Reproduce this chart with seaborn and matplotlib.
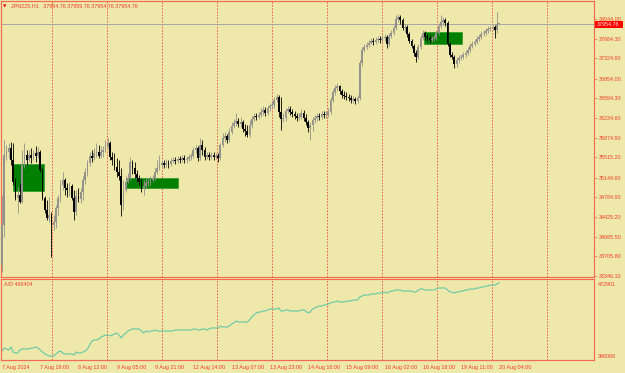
import matplotlib
matplotlib.use("Agg")
import matplotlib.pyplot as plt
from matplotlib.patches import Rectangle
import numpy as np
import pandas as pd
import seaborn as sns

# ---------------- data ----------------
symbol_text = "JPN225,H1   37954.76 37959.76 37954.76 37954.76"
current_price = 37954.76

opens = [33547, 34278, 35558, 35612, 35686, 35466, 35064, 34772, 34826, 34698,
         35375, 35558, 35466, 35558, 35503, 35594, 35539, 35612, 35284, 34772,
         34552, 34406, 34461, 34278, 34333, 34589, 34772, 35009, 35101, 34954,
         34918, 34991, 34772, 34516, 34808, 34753, 34881, 35101, 35247, 35411,
         35539, 35503, 35594, 35612, 35539, 35612, 35649, 35722, 35777, 35521,
         35466, 35338, 35247, 35174, 34644, 34918, 35064, 35137, 35430, 35320,
         35210, 35137, 35064, 34954, 34991, 35046, 35064, 35101, 35137, 35247,
         35320, 35375, 35411, 35375, 35411, 35393, 35448, 35466, 35448, 35485,
         35466, 35503, 35466, 35485, 35521, 35539, 35649, 35686, 35503, 35740,
         35649, 35521, 35558, 35521, 35558, 35521, 35539, 35503, 35740, 35868,
         35905, 35832, 35978, 36088, 36143, 36179, 36124, 36161, 36033, 35996,
         35923, 36106, 36216, 36270, 36252, 36289, 36344, 36380, 36325, 36417,
         36453, 36472, 36563, 36618, 36344, 36216, 36234, 36362, 36398, 36344,
         36307, 36270, 36234, 36252, 36325, 36234, 36161, 36051, 36106, 36197,
         36234, 36270, 36252, 36307, 36289, 36307, 36344, 36563, 36709, 36782,
         36819, 36727, 36654, 36636, 36618, 36600, 36563, 36581, 36545, 36600,
         37239, 37477, 37532, 37568, 37605, 37642, 37623, 37660, 37678, 37660,
         37696, 37715, 37587, 37733, 37788, 37879, 38044, 38080, 38025, 37879,
         37897, 37770, 37642, 37550, 37422, 37349, 37532, 37696, 37788, 37715,
         37696, 37660, 37678, 37696, 37788, 37916, 37989, 38025, 37971, 37587,
         37386, 37349, 37221, 37294, 37331, 37349, 37386, 37422, 37477, 37550,
         37587, 37623, 37678, 37715, 37770, 37788, 37824, 37861, 37879, 37897,
         37843, 37954.76]

highs = [34826, 35832, 35740, 35777, 35795, 35777, 35137, 34973, 35046, 35649,
         35777, 35649, 35649, 35686, 35649, 35722, 35704, 35649, 35320, 34808,
         34735, 34790, 34516, 34461, 34644, 34826, 35101, 35247, 35137, 35046,
         35064, 35028, 34918, 34918, 34954, 34954, 35174, 35320, 35466, 35612,
         35649, 35686, 35777, 35740, 35722, 35722, 35832, 35868, 35814, 35612,
         35594, 35503, 35466, 35320, 35101, 35174, 35229, 35521, 35466, 35430,
         35284, 35192, 35137, 35101, 35137, 35137, 35174, 35192, 35320, 35466,
         35558, 35466, 35466, 35485, 35466, 35503, 35521, 35521, 35539, 35539,
         35558, 35558, 35539, 35576, 35594, 35704, 35740, 35722, 35868, 35832,
         35704, 35612, 35612, 35612, 35612, 35594, 35594, 35777, 35960, 35978,
         35941, 36051, 36161, 36216, 36325, 36234, 36252, 36197, 36124, 36106,
         36197, 36270, 36325, 36325, 36344, 36417, 36453, 36435, 36472, 36508,
         36545, 36618, 36673, 36654, 36618, 36325, 36417, 36453, 36453, 36398,
         36362, 36325, 36325, 36398, 36380, 36307, 36197, 36161, 36252, 36289,
         36325, 36325, 36362, 36362, 36362, 36417, 36618, 36764, 36837, 36874,
         36837, 36764, 36727, 36709, 36673, 36654, 36636, 36618, 36654, 37294,
         37532, 37587, 37623, 37660, 37696, 37696, 37715, 37733, 37733, 37751,
         37770, 37751, 37788, 37843, 37934, 38117, 38135, 38117, 38062, 37952,
         37934, 37806, 37678, 37587, 37477, 37587, 37751, 37843, 37824, 37770,
         37751, 37733, 37751, 37843, 37971, 38117, 38080, 38062, 38007, 37623,
         37440, 37386, 37349, 37386, 37404, 37440, 37477, 37532, 37605, 37642,
         37678, 37733, 37770, 37824, 37843, 37879, 37916, 37916, 37934, 37934,
         38172, 37959.76]

lows = [33419, 34059, 35466, 35503, 35375, 35009, 34735, 34497, 34680, 34680,
        35320, 35375, 35430, 35411, 35466, 35430, 35503, 35247, 34735, 34497,
        34369, 34333, 33693, 34187, 34223, 34461, 34698, 34918, 34826, 34790,
        34808, 34735, 34369, 34461, 34698, 34680, 34735, 35028, 35174, 35357,
        35430, 35466, 35521, 35503, 35503, 35521, 35612, 35686, 35466, 35375,
        35284, 35155, 35101, 34443, 34552, 34881, 35046, 35101, 35210, 35137,
        35064, 35009, 34881, 34826, 34954, 34991, 35009, 35064, 35101, 35210,
        35284, 35320, 35320, 35338, 35320, 35357, 35411, 35393, 35411, 35411,
        35430, 35411, 35411, 35448, 35466, 35503, 35594, 35448, 35466, 35558,
        35466, 35485, 35466, 35485, 35466, 35485, 35430, 35466, 35704, 35795,
        35777, 35795, 35941, 36051, 36088, 36069, 36069, 35978, 35905, 35887,
        35887, 36051, 36179, 36197, 36216, 36252, 36289, 36270, 36289, 36362,
        36417, 36417, 36526, 36252, 36015, 36161, 36179, 36325, 36289, 36252,
        36216, 36179, 36197, 36216, 36179, 36106, 35978, 35832, 35996, 36143,
        36179, 36197, 36216, 36234, 36234, 36252, 36307, 36526, 36654, 36727,
        36673, 36600, 36581, 36563, 36545, 36508, 36508, 36490, 36508, 36563,
        37185, 37440, 37495, 37532, 37587, 37568, 37587, 37623, 37605, 37623,
        37642, 37514, 37550, 37696, 37751, 37843, 37989, 37952, 37843, 37806,
        37715, 37605, 37514, 37367, 37258, 37313, 37495, 37660, 37660, 37642,
        37605, 37623, 37642, 37660, 37751, 37879, 37934, 37916, 37550, 37349,
        37313, 37148, 37166, 37239, 37294, 37313, 37349, 37386, 37440, 37514,
        37550, 37587, 37642, 37678, 37733, 37751, 37788, 37824, 37843, 37696,
        37788, 37954.76]

closes = [34278, 35558, 35612, 35686, 35466, 35064, 34772, 34826, 34698, 35375,
          35558, 35466, 35558, 35503, 35594, 35539, 35612, 35284, 34772, 34552,
          34406, 34461, 34278, 34333, 34589, 34772, 35009, 35101, 34954, 34918,
          34991, 34772, 34516, 34808, 34753, 34881, 35101, 35247, 35411, 35539,
          35503, 35594, 35612, 35539, 35612, 35649, 35722, 35777, 35521, 35466,
          35338, 35247, 35174, 34644, 34918, 35064, 35137, 35430, 35320, 35210,
          35137, 35064, 34954, 34991, 35046, 35064, 35101, 35137, 35247, 35320,
          35375, 35411, 35375, 35411, 35393, 35448, 35466, 35448, 35485, 35466,
          35503, 35466, 35485, 35521, 35539, 35649, 35686, 35503, 35740, 35649,
          35521, 35558, 35521, 35558, 35521, 35539, 35503, 35740, 35868, 35905,
          35832, 35978, 36088, 36143, 36179, 36124, 36161, 36033, 35996, 35923,
          36106, 36216, 36270, 36252, 36289, 36344, 36380, 36325, 36417, 36453,
          36472, 36563, 36618, 36344, 36216, 36234, 36362, 36398, 36344, 36307,
          36270, 36234, 36252, 36325, 36234, 36161, 36051, 36106, 36197, 36234,
          36270, 36252, 36307, 36289, 36307, 36344, 36563, 36709, 36782, 36819,
          36727, 36654, 36636, 36618, 36600, 36563, 36581, 36545, 36600, 37239,
          37477, 37532, 37568, 37605, 37642, 37623, 37660, 37678, 37660, 37696,
          37715, 37587, 37733, 37788, 37879, 38044, 38080, 38025, 37879, 37897,
          37770, 37642, 37550, 37422, 37349, 37532, 37696, 37788, 37715, 37696,
          37660, 37678, 37696, 37788, 37916, 37989, 38025, 37971, 37587, 37386,
          37349, 37221, 37294, 37331, 37349, 37386, 37422, 37477, 37550, 37587,
          37623, 37678, 37715, 37770, 37788, 37824, 37861, 37879, 37897, 37843,
          37950, 37954.76]

ad_values = [404602, 407447, 406499, 405550, 408396, 403653, 402704, 402704, 405550, 406499,
             406499, 406499, 406499, 407447, 407447, 408396, 407447, 405550, 403653, 401756,
             400807, 399859, 399859, 399859, 401756, 403653, 404602, 402704, 401756, 401756,
             401756, 401756, 400807, 403653, 402704, 402704, 403653, 404602, 406499, 410293,
             414088, 415036, 415036, 415985, 417882, 418831, 419779, 419779, 418831, 419779,
             420728, 421677, 419779, 416934, 419779, 421677, 423574, 424522, 425471, 425471,
             425471, 425471, 423574, 421677, 423574, 422625, 423574, 423574, 424522, 423574,
             423574, 423574, 423574, 423574, 423574, 423574, 423574, 424522, 424522, 424522,
             424522, 424522, 424522, 424522, 424522, 425471, 425471, 424522, 424522, 425471,
             425471, 424522, 425471, 426420, 426420, 426420, 426420, 428317, 427368, 427368,
             427368, 428317, 430214, 431163, 433060, 432111, 432111, 432111, 432111, 432111,
             434008, 436854, 438751, 440649, 441597, 441597, 442546, 442546, 443494, 444443,
             444443, 444443, 444443, 445392, 442546, 442546, 443494, 443494, 442546, 442546,
             442546, 442546, 442546, 443494, 443494, 442546, 440649, 441597, 444443, 445392,
             446340, 447289, 447289, 448237, 448237, 449186, 450135, 451083, 451083, 452032,
             451083, 451083, 451083, 452032, 452032, 452032, 452980, 452980, 452980, 455826,
             456775, 457723, 457723, 457723, 458672, 458672, 458672, 459621, 459621, 459621,
             460569, 459621, 460569, 461518, 461518, 462466, 462466, 462466, 461518, 461518,
             461518, 461518, 461518, 460569, 460569, 462466, 463415, 463415, 462466, 462466,
             462466, 462466, 462466, 463415, 464364, 464364, 464364, 464364, 462466, 460569,
             460569, 459621, 460569, 460569, 461518, 461518, 462466, 462466, 463415, 463415,
             463415, 464364, 464364, 465312, 465312, 466261, 466261, 467209, 467209, 467209,
             468158, 469404]
ad_label = "A/D 469404"
ad_max_label = "472901"
ad_min_label = "396068"
ad_range = [396068, 472901]

price_ticks = [38044.00, 37684.30, 37324.60, 36954.00, 36594.30, 36234.60, 35874.90,
               35515.20, 35144.60, 34784.90, 34425.20, 34065.50, 33705.80, 33346.10]

time_tick_bars = [0, 17, 34, 51, 68, 85, 102, 119, 136, 153, 170, 187, 204, 221]
time_tick_labels = ["7 Aug 2024", "7 Aug 19:00", "8 Aug 12:00", "9 Aug 05:00",
                    "9 Aug 21:00", "12 Aug 14:00", "13 Aug 07:00", "13 Aug 23:00",
                    "14 Aug 16:00", "15 Aug 09:00", "16 Aug 02:00", "16 Aug 18:00",
                    "19 Aug 11:00", "20 Aug 04:00"]

grid_bars = [22.2, 46.7, 71.1, 95.6, 120.0, 144.4, 168.9, 193.3, 217.8, 242.2]

zone_starts = [5.0, 55.0, 187.7]
zone_ends = [18.8, 78.4, 204.6]
zone_lows = [34900, 34954, 37587]
zone_highs = [35393, 35137, 37806]

# ---------------- style ----------------
sns.set_style("white")
plt.rcParams['font.family'] = ['Liberation Sans', 'DejaVu Sans']

BG = '#EEE8AA'
EDGE = '#F46A4E'
TXT = '#F03C28'
UPC = '#92928A'
DNC = '#000000'
GREEN = '#008000'
ADC = '#5CC6A6'
FS = 3.9

W, H = 625, 373
fig = plt.figure(figsize=(W / 100, H / 100), dpi=100, facecolor=BG)
ax = fig.add_axes([1 / W, (H - 277) / H, 593 / W, 276 / H])
ax2 = fig.add_axes([1 / W, (H - 360) / H, 593 / W, 81 / H])

df = pd.DataFrame({'bar': np.arange(len(closes)), 'open': opens, 'high': highs,
                   'low': lows, 'close': closes})
df['up'] = df['close'] >= df['open']
df['body_lo'] = df[['open', 'close']].min(axis=1)
df['body_h'] = (df['close'] - df['open']).abs().clip(lower=14)

for a in (ax, ax2):
    a.set_facecolor(BG)
    for s in a.spines.values():
        s.set_color(EDGE)
        s.set_linewidth(0.85)
    for g in grid_bars:
        a.axvline(g, color='#F05A44', lw=0.7, ls=(0, (1.6, 1.6)), zorder=0.5)
    a.set_xlim(-0.44, 263.1)

# zones
for s, e, lo, hi in zip(zone_starts, zone_ends, zone_lows, zone_highs):
    ax.add_patch(Rectangle((s, lo), e - s, hi - lo, facecolor=GREEN,
                           edgecolor='#2A9A2A', lw=0.5, zorder=1))

# current price line
ax.axhline(current_price, color='#A6A6A6', lw=0.7, zorder=1.5)

# candles
for is_up, col in ((True, UPC), (False, DNC)):
    d = df[df['up'] == is_up]
    ax.vlines(d['bar'], d['low'], d['high'], colors=col, linewidth=0.6, zorder=3)
    ax.bar(d['bar'], d['body_h'], bottom=d['body_lo'], width=0.85, color=col,
           linewidth=0, zorder=3)

ax.set_ylim(33327, 38373)
ax.set_xticks([])
ax.yaxis.tick_right()
ax.set_yticks(price_ticks)
ax.set_yticklabels([f"{v:.2f}" for v in price_ticks])
ax.tick_params(axis='y', length=2, width=0.5, color=EDGE, labelcolor=TXT,
               labelsize=FS, pad=1.2)

# A/D indicator
sns.lineplot(x=np.arange(len(ad_values)), y=ad_values, ax=ax2, color=ADC,
             linewidth=0.75)
ax2.set_ylim(ad_range[0], ad_range[1])
ax2.set_xlabel('')
ax2.set_ylabel('')
ax2.set_yticks([])
ax2.set_xticks(time_tick_bars)
ax2.set_xticklabels(time_tick_labels)
for lab in ax2.get_xticklabels():
    lab.set_horizontalalignment('left')
ax2.tick_params(axis='x', length=2.5, width=0.5, color=EDGE, labelcolor=TXT,
                labelsize=FS, pad=1.0, direction='out')

# texts
fig.text(3 / W, 1 - 6 / H, '\u25BC', family='DejaVu Sans', fontsize=3.2,
         color='#E00000', va='center', ha='left')
fig.text(11 / W, 1 - 6 / H, symbol_text, fontsize=FS, color=TXT,
         va='center', ha='left')
fig.text(4 / W, 1 - 284 / H, ad_label, fontsize=FS, color=TXT,
         va='center', ha='left')
fig.text(598 / W, 1 - 284 / H, ad_max_label, fontsize=FS, color=TXT,
         va='center', ha='left')
fig.text(598 / W, 1 - 356 / H, ad_min_label, fontsize=FS, color=TXT,
         va='center', ha='left')

# current price tag on the price scale
fig.patches.append(Rectangle((595 / W, 1 - 27.6 / H), 28 / W, 6.4 / H,
                             transform=fig.transFigure, facecolor='#FF0000',
                             edgecolor='none', zorder=5))
fig.text(597 / W, 1 - 24.4 / H, f"{current_price:.2f}", fontsize=FS,
         color='#FFE8E0', va='center', ha='left', zorder=6)

fig.savefig("out.png", dpi=100, facecolor=BG)
